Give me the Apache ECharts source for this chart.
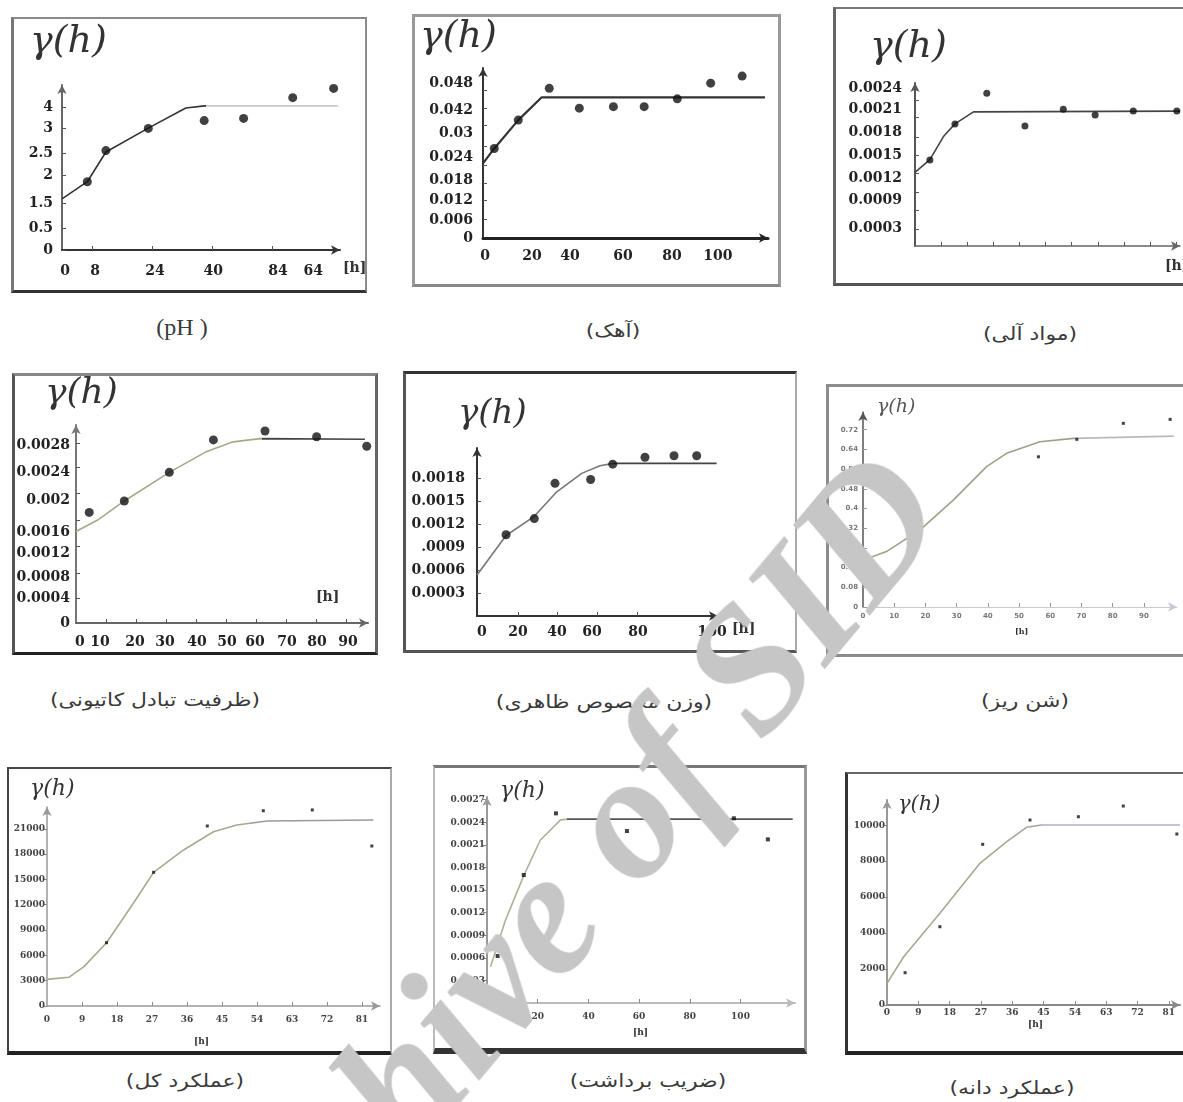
<!DOCTYPE html>
<html lang="fa">
<head>
    <meta charset="UTF-8">
    <title>واریوگرام ها</title>
    <script src="https://cdn.jsdelivr.net/npm/echarts@6/dist/echarts.min.js"></script>
    <style>
        body { margin: 0; background: #fff; width: 1183px; height: 1102px; overflow: hidden; position: relative; }
        .panel { position: absolute; }
        .chart { position: absolute; left: 0; top: 0; width: 100%; height: 100%; }
        .frame { position: absolute; left: 0; top: 0; right: 0; bottom: 0; box-sizing: border-box; pointer-events: none; }
        .cap { position: absolute; transform: translate(-50%, -50%) scaleX(1.22); white-space: nowrap; color: #3a3a3a;
               font-family: "DejaVu Sans", sans-serif; font-size: 18px; }
        .wm { position: absolute; left: 551px; top: 902px; transform: translate(-50%, -50%) rotate(-50deg);
              font: italic bold 178px "Liberation Serif", serif; line-height: 1; color: #c6c6c6;
              white-space: nowrap; pointer-events: none; z-index: 10; }
    </style>
</head>
<body>

<div class="panel" style="left:11px;top:17px;width:356px;height:276px">
    <div class="chart" id="c1"></div>
    <div class="frame" style="border:2px solid #8a8a8a;border-left:3px solid #777;border-bottom:3px solid #333"></div>
</div>
<div class="panel" style="left:412px;top:14px;width:369px;height:273px">
    <div class="chart" id="c2"></div>
    <div class="frame" style="border:3px solid #999;border-bottom:3px solid #888"></div>
</div>
<div class="panel" style="left:833px;top:7px;width:360px;height:279px">
    <div class="chart" id="c3"></div>
    <div class="frame" style="border:2px solid #777;border-left:3px solid #666;border-bottom:3px solid #555"></div>
</div>
<div class="panel" style="left:12px;top:373px;width:366px;height:282px">
    <div class="chart" id="c4"></div>
    <div class="frame" style="border:3px solid #888;border-left:3px solid #555;border-right:3px solid #666;border-bottom:3px solid #222"></div>
</div>
<div class="panel" style="left:403px;top:371px;width:394px;height:282px">
    <div class="chart" id="c5"></div>
    <div class="frame" style="border:3px solid #333;border-left:3px solid #555;border-right:2px solid #aaa;border-bottom:3px solid #555"></div>
</div>
<div class="panel" style="left:826px;top:384px;width:365px;height:273px">
    <div class="chart" id="c6"></div>
    <div class="frame" style="border:3px solid #8c8c8c"></div>
</div>
<div class="panel" style="left:7px;top:767px;width:385px;height:288px">
    <div class="chart" id="c7"></div>
    <div class="frame" style="border:2px solid #444;border-right:2px solid #aaa;border-bottom:4px solid #222"></div>
</div>
<div class="panel" style="left:433px;top:765px;width:374px;height:289px">
    <div class="chart" id="c8"></div>
    <div class="frame" style="border:3px solid #777;border-left:2px solid #bbb;border-right:3px solid #999;border-bottom:6px solid #333"></div>
</div>
<div class="panel" style="left:845px;top:772px;width:345px;height:283px">
    <div class="chart" id="c9"></div>
    <div class="frame" style="border:2px solid #666;border-left:3px solid #333;border-bottom:4px solid #222"></div>
</div>

<div class="cap" style="left:182px;top:327px;font-family:'Liberation Serif',serif;font-size:24px;transform:translate(-50%,-50%)">(pH )</div>
<div class="cap" dir="rtl" style="left:613px;top:330px">(آهک)</div>
<div class="cap" dir="rtl" style="left:1030px;top:333px">(مواد آلی)</div>
<div class="cap" dir="rtl" style="left:155px;top:699px">(ظرفیت تبادل کاتیونی)</div>
<div class="cap" dir="rtl" style="left:604px;top:701px">(وزن مخصوص ظاهری)</div>
<div class="cap" dir="rtl" style="left:1025px;top:700px">(شن ریز)</div>
<div class="cap" dir="rtl" style="left:185px;top:1080px">(عملکرد کل)</div>
<div class="cap" dir="rtl" style="left:648px;top:1080px">(ضریب برداشت)</div>
<div class="cap" dir="rtl" style="left:1012px;top:1087px">(عملکرد دانه)</div>

<div class="wm">Archive of SID</div>

<script type="text/javascript">

    // ---- pH ----
    var phPoints = [[6.75, 1.91], [11.7, 2.78], [23.0, 3.40], [37.9, 3.62], [48.4, 3.68], [61.5, 4.26], [72.4, 4.52]];
    var phLine = [[0, 1.43], [6.75, 1.91], [11.7, 2.74], [23, 3.41], [33, 3.97], [38, 4.03], [73.6, 4.03]];
    var phYTicks = [0, 0.6, 1.3, 2.1, 2.7, 3.4, 4.0];
    var phYLabels = ['0', '0.5', '1.5', '2', '2.5', '3', '4'];
    var phXTicks = [0.8, 8.8, 24.8, 40.3, 57.6, 67];
    var phXLabels = ['0', '8', '24', '40', '84', '64'];
    var phXMarks = [8, 24, 40, 56];

    // ---- آهک ----
    var limePoints = [[4.8, 0.0240], [15.0, 0.0316], [28.2, 0.0401], [41.0, 0.0348], [55.5, 0.0352], [68.6, 0.0352],
        [82.7, 0.0373], [96.9, 0.0415], [110.3, 0.0434]];
    var limeLine = [[0, 0.0200], [4.8, 0.0240], [15, 0.0316], [25, 0.0377], [120, 0.0377]];
    var limeYTicks = [0, 0.0048, 0.0102, 0.0155, 0.0217, 0.0281, 0.0343, 0.0415];
    var limeYLabels = ['0', '0.006', '0.012', '0.018', '0.024', '0.03', '0.042', '0.048'];
    var limeYMarks = [0.0051, 0.0102, 0.0148, 0.0194, 0.0245, 0.0302, 0.0348, 0.0395];
    var limeXTicks = [0.85, 20.9, 37, 59.6, 80.4, 100];
    var limeXLabels = ['0', '20', '40', '60', '80', '100'];

    // ---- مواد آلی ----
    var omPoints = [[0.57, 0.001436], [1.53, 0.001918], [2.75, 0.002329], [4.21, 0.001891], [5.68, 0.002114],
        [6.9, 0.002038], [8.36, 0.002092], [10.03, 0.002092]];
    var omLine = [[0, 0.00127], [0.57, 0.00144], [1.09, 0.00175], [1.53, 0.00192], [2.24, 0.00208], [10.15, 0.00209]];
    var omYTicks = [0.0024, 0.00211, 0.00181, 0.0015, 0.00119, 0.0009, 0.000525];
    var omYLabels = ['0.0024', '0.0021', '0.0018', '0.0015', '0.0012', '0.0009', '0.0003'];
    var omYMarks = [0.002239, 0.002011, 0.001744, 0.001503, 0.001262, 0.001007, 0.000766, 0.000512];
    var omXMarks = [1, 2, 3, 4, 5, 6, 7, 8, 9, 10];

    // ---- ظرفیت تبادل کاتیونی ----
    var cecPoints = [[4.4, 0.00174], [16.1, 0.00192], [31.1, 0.00237], [45.8, 0.00288], [63, 0.00302],
        [80.2, 0.00293], [96.9, 0.00278]];
    var cecLine = [[0, 0.00144], [7.2, 0.00162], [16.1, 0.00192], [31.1, 0.00237], [43.6, 0.00270],
        [52.4, 0.00285], [61.3, 0.00290], [96.3, 0.00289]];
    var cecYTicks = [0.0028, 0.002375, 0.001935, 0.001431, 0.001101, 0.000724, 0.000393, 0];
    var cecYLabels = ['0.0028', '0.0024', '0.002', '0.0016', '0.0012', '0.0008', '0.0004', '0'];
    var cecYMarks = [0.00283, 0.00245, 0.00204, 0.00162, 0.0012, 0.00079, 0.00039];
    var cecXTicks = [1.3, 8, 19.7, 29.7, 40.3, 50.3, 59.7, 70.3, 80.3, 90.7];
    var cecXLabels = ['0', '10', '20', '30', '40', '50', '60', '70', '80', '90'];
    var cecXMarks = [10, 20, 30, 40, 50, 60, 70, 80, 90];

    // ---- وزن مخصوص ظاهری ----
    var bdPoints = [[14.6, 0.00106], [28.8, 0.00127], [39.2, 0.00173], [57.1, 0.00178], [68.2, 0.00198],
        [84.4, 0.00207], [99, 0.00209], [110.4, 0.00209]];
    var bdLine = [[0, 0.000535], [14.6, 0.00105], [28.8, 0.00130], [40.1, 0.00162], [52.6, 0.00186],
        [61.8, 0.00196], [68.5, 0.00199], [120.4, 0.00199]];
    var bdYTicks = [0.0018, 0.0015, 0.0012, 0.0009, 0.0006, 0.0003];
    var bdYLabels = ['0.0018', '0.0015', '0.0012', '.0009', '0.0006', '0.0003'];
    var bdXTicks = [2.5, 20.6, 40.2, 57.8, 80.9, 118.1];
    var bdXLabels = ['0', '20', '40', '60', '80', '100'];
    var bdXMarks = [20.6, 40.2, 60.3, 80.4];

    // ---- شن ریز ----
    var gravelPoints = [[5.2, 0.078], [56.2, 0.610], [68.5, 0.681], [83.4, 0.746], [98.4, 0.762]];
    var gravelLine = [[0, 0.19], [7.5, 0.225], [18.3, 0.313], [29, 0.435], [39.6, 0.570], [46, 0.624],
        [56.7, 0.671], [67.4, 0.685], [99.6, 0.694]];
    var gravelYTicks = [0, 0.08, 0.16, 0.24, 0.32, 0.4, 0.48, 0.56, 0.64, 0.72];
    var gravelYLabels = ['0', '0.08', '0.16', '0.24', '0.32', '0.4', '0.48', '0.56', '0.64', '0.72'];
    var gravelXTicks = [0, 10, 20, 30, 40, 50, 60, 70, 80, 90];
    var gravelXLabels = ['0', '10', '20', '30', '40', '50', '60', '70', '80', '90'];

    // ---- عملکرد کل ----
    var totalPoints = [[15.3, 7500], [27.4, 15840], [41.2, 21330], [55.6, 23140], [68.2, 23230], [83.5, 18960]];
    var totalLine = [[0, 3160], [5.6, 3400], [9.5, 4660], [15.3, 7500], [22.2, 12170], [27.4, 15840],
        [35.1, 18490], [42.8, 20650], [48.8, 21450], [56.5, 21920], [83.9, 22040]];
    var totalYTicks = [0, 3000, 6000, 9000, 12000, 15000, 18000, 21000];
    var totalYLabels = ['0', '3000', '6000', '9000', '12000', '15000', '18000', '21000'];
    var totalXTicks = [0, 9, 18, 27, 36, 45, 54, 63, 72, 81];
    var totalXLabels = ['0', '9', '18', '27', '36', '45', '54', '63', '72', '81'];

    // ---- ضریب برداشت ----
    var hiPoints = [[4.2, 0.000624], [14.5, 0.001699], [27.2, 0.002517], [55.2, 0.002282], [68.4, 0.002517],
        [97.4, 0.002451], [110.8, 0.002172]];
    var hiLine = [[1.4, 0.000482], [7.3, 0.0011], [14.5, 0.00169], [21, 0.00216], [29, 0.00243],
        [31.9, 0.00244], [120.6, 0.00244]];
    var hiYTicks = [0.0003, 0.0006, 0.0009, 0.0012, 0.0015, 0.0018, 0.0021, 0.0024, 0.0027];
    var hiYLabels = ['0.0003', '0.0006', '0.0009', '0.0012', '0.0015', '0.0018', '0.0021', '0.0024', '0.0027'];
    var hiXTicks = [20, 40, 60, 80, 100];
    var hiXLabels = ['20', '40', '60', '80', '100'];

    // ---- عملکرد دانه ----
    var grainPoints = [[5.2, 1796], [15.2, 4353], [27.5, 8935], [41.1, 10286], [55, 10470], [67.9, 11064], [83.3, 9508]];
    var grainLine = [[0, 1206], [4.8, 2685], [15.2, 5098], [26.7, 7878], [34.4, 9080], [40.1, 9880],
        [44.4, 10008], [84.2, 10008]];
    var grainYTicks = [0, 2000, 4000, 6000, 8000, 10000];
    var grainYLabels = ['0', '2000', '4000', '6000', '8000', '10000'];
    var grainXTicks = [0, 9, 18, 27, 36, 45, 54, 63, 72, 81];
    var grainXLabels = ['0', '9', '18', '27', '36', '45', '54', '63', '72', '81'];


    // 刻度文字：按位置查表
    function pickLabel(ticks, texts, span) {
        return function (v) {
            for (var i = 0; i < ticks.length; i++) {
                if (Math.abs(ticks[i] - v) < span * 1e-6) return texts[i];
            }
            return '';
        };
    }

    function twoTone(c1, c2, k) {
        if (k == null) return c1;
        return {
            type: 'linear', x: 0, y: 0, x2: 1, y2: 0,
            colorStops: [{offset: 0, color: c1}, {offset: k, color: c1}, {offset: k, color: c2}, {offset: 1, color: c2}]
        };
    }

    function drawPanel(p) {
        var chart = echarts.init(document.getElementById(p.id));
        var yMin = p.yMin || 0;
        var font = {fontFamily: p.fontFamily || 'DejaVu Serif', fontWeight: 'bold', fontSize: p.fontSize, color: p.labelColor || '#222'};
        var graphic = [{
            type: 'text', left: p.gamma[0], top: p.gamma[1],
            style: {text: 'γ(h)', fontFamily: 'DejaVu Serif', fontStyle: 'italic', fontSize: p.gamma[2], fill: p.gammaColor || '#333'}
        }];
        if (p.hMark) {
            graphic.push({
                type: 'text', left: p.hMark[0], top: p.hMark[1],
                style: {text: '[h]', fontFamily: 'DejaVu Serif', fontWeight: 'bold', fontSize: p.hMark[2], fill: '#333'}
            });
        }
        var option = {
            animation: false,
            grid: {left: p.grid[0], top: p.grid[1], width: p.grid[2], height: p.grid[3], outerBoundsMode: 'none'},
            graphic: graphic,
            xAxis: {
                type: 'value', min: 0, max: p.xMax,
                splitLine: {show: false},
                axisLine: {show: true, onZero: false, symbol: ['none', 'arrow'], symbolSize: [7, 9],
                    lineStyle: {color: p.xAxisColor, width: p.xAxisWidth}},
                axisTick: {show: !!p.xMarks, customValues: p.xMarks || [], inside: true, length: 4,
                    lineStyle: {color: p.tickColor || '#555'}},
                axisLabel: {show: !!p.xTicks, customValues: p.xTicks || [], margin: p.xMargin,
                    formatter: pickLabel(p.xTicks || [], p.xLabels || [], p.xMax),
                    fontFamily: font.fontFamily, fontWeight: 'bold', fontSize: font.fontSize, color: font.color}
            },
            yAxis: {
                type: 'value', min: yMin, max: p.yMax,
                splitLine: {show: false},
                axisLine: {show: true, onZero: false, symbol: ['none', 'arrow'], symbolSize: [7, 9],
                    lineStyle: {color: p.yAxisColor, width: p.yAxisWidth}},
                axisTick: {show: true, customValues: p.yMarks || p.yTicks, inside: p.yTickInside !== false, length: 4,
                    lineStyle: {color: p.tickColor || '#555'}},
                axisLabel: {customValues: p.yTicks, margin: p.yMargin,
                    formatter: pickLabel(p.yTicks, p.yLabels, p.yMax - yMin),
                    fontFamily: font.fontFamily, fontWeight: 'bold', fontSize: font.fontSize, color: font.color}
            },
            series: [{
                type: 'line', data: p.line, symbol: 'none', z: 2,
                lineStyle: {width: p.lineWidth || 1.6, color: twoTone(p.lineColors[0], p.lineColors[1], p.knee)}
            }, {
                type: 'scatter', data: p.points, symbol: p.pointShape || 'circle', symbolSize: p.pointSize, z: 3,
                itemStyle: {color: '#111'}
            }]
        };
        chart.setOption(option);
    }

    drawPanel({id: 'c1', grid: [51, 68, 278, 165], xMax: 74.1, yMax: 4.615,
        points: phPoints, line: phLine, lineColors: ['#333', '#c8c8c8'], knee: 0.52, pointSize: 9,
        yTicks: phYTicks, yLabels: phYLabels, xTicks: phXTicks, xLabels: phXLabels, xMarks: phXMarks,
        fontSize: 14, xMargin: 14, yMargin: 9, xAxisColor: '#333', xAxisWidth: 2, yAxisColor: '#666', yAxisWidth: 2,
        gamma: [19, 6, 38], hMark: [332, 244, 14]});

    drawPanel({id: 'c2', grid: [71, 54, 285, 170], xMax: 121.3, yMax: 0.04556,
        points: limePoints, line: limeLine, lineColors: ['#333', '#333'], lineWidth: 2.2, pointSize: 9,
        yTicks: limeYTicks, yLabels: limeYLabels, yMarks: limeYMarks, xTicks: limeXTicks, xLabels: limeXLabels,
        fontSize: 14, xMargin: 11, yMargin: 10, xAxisColor: '#222', xAxisWidth: 3, yAxisColor: '#333', yAxisWidth: 2,
        gamma: [8, 4, 38]});

    drawPanel({id: 'c3', grid: [82, 76, 265, 163], xMax: 10.15, yMin: 0.000284, yMax: 0.002467,
        points: omPoints, line: omLine, lineColors: ['#444', '#555'], pointSize: 7,
        yTicks: omYTicks, yLabels: omYLabels, yMarks: omYMarks, xMarks: omXMarks,
        fontSize: 14, yMargin: 13, xAxisColor: '#666', xAxisWidth: 1.5, yAxisColor: '#555', yAxisWidth: 2,
        gamma: [37, 21, 38], hMark: [332, 252, 14]});

    drawPanel({id: 'c4', grid: [64, 52, 292, 198], xMax: 97.33, yMax: 0.003115,
        points: cecPoints, line: cecLine, lineColors: ['#a8a888', '#444'], knee: 0.64, pointSize: 9,
        yTicks: cecYTicks, yLabels: cecYLabels, yMarks: cecYMarks, xTicks: cecXTicks, xLabels: cecXLabels, xMarks: cecXMarks,
        fontSize: 14, xMargin: 12, yMargin: 6, xAxisColor: '#666', xAxisWidth: 2, yAxisColor: '#777', yAxisWidth: 2,
        gamma: [33, 3, 36], hMark: [304, 217, 14]});

    drawPanel({id: 'c5', grid: [74, 77, 241, 168], xMax: 121.1, yMax: 0.002191,
        points: bdPoints, line: bdLine, lineColors: ['#777', '#444'], knee: 0.57, pointSize: 9,
        yTicks: bdYTicks, yLabels: bdYLabels, xTicks: bdXTicks, xLabels: bdXLabels, xMarks: bdXMarks,
        fontSize: 14, xMargin: 9, yMargin: 12, xAxisColor: '#333', xAxisWidth: 2, yAxisColor: '#333', yAxisWidth: 2,
        gamma: [55, 26, 34], hMark: [329, 251, 14]});

    drawPanel({id: 'c6', grid: [37, 28, 314, 195], xMax: 100.6, yMax: 0.792,
        points: gravelPoints, line: gravelLine, lineColors: ['#a0a088', '#b8b8c4'], knee: 0.68,
        pointSize: 3, pointShape: 'rect',
        yTicks: gravelYTicks, yLabels: gravelYLabels, xTicks: gravelXTicks, xLabels: gravelXLabels, xMarks: gravelXTicks.slice(1),
        fontFamily: 'DejaVu Sans', fontSize: 7, labelColor: '#777', xMargin: 6, yMargin: 5, tickColor: '#999',
        xAxisColor: '#c8c8d8', xAxisWidth: 1, yAxisColor: '#555', yAxisWidth: 1.5,
        gamma: [51, 14, 19], gammaColor: '#555', hMark: [189, 244, 8]});

    drawPanel({id: 'c7', grid: [40, 40, 333, 199], xMax: 85.6, yMax: 23580,
        points: totalPoints, line: totalLine, lineColors: ['#a8a890', '#9a9a9a'], knee: 0.62,
        pointSize: 3, pointShape: 'rect',
        yTicks: totalYTicks, yLabels: totalYLabels, yTickInside: false, xTicks: totalXTicks, xLabels: totalXLabels,
        xMarks: totalXTicks.slice(1),
        fontSize: 9, labelColor: '#444', xMargin: 9, yMargin: 2, tickColor: '#888',
        xAxisColor: '#999', xAxisWidth: 1.5, yAxisColor: '#999', yAxisWidth: 1.5,
        gamma: [23, 11, 22], hMark: [187, 270, 9]});

    drawPanel({id: 'c8', grid: [54, 32, 308, 206], xMax: 121.5, yMax: 0.002734,
        points: hiPoints, line: hiLine, lineColors: ['#b0b098', '#555'], knee: 0.256,
        pointSize: 4, pointShape: 'rect',
        yTicks: hiYTicks, yLabels: hiYLabels, yTickInside: false, xTicks: hiXTicks, xLabels: hiXLabels, xMarks: hiXTicks,
        fontSize: 9, labelColor: '#444', xMargin: 9, yMargin: 2, tickColor: '#888',
        xAxisColor: '#bbb', xAxisWidth: 2, yAxisColor: '#999', yAxisWidth: 2,
        gamma: [67, 15, 22], hMark: [200, 263, 9]});

    drawPanel({id: 'c9', grid: [42, 28, 293, 205], xMax: 84.2, yMax: 11400,
        points: grainPoints, line: grainLine, lineColors: ['#a8a890', '#b0b0c8'], knee: 0.53,
        pointSize: 3, pointShape: 'rect',
        yTicks: grainYTicks, yLabels: grainYLabels, yTickInside: false, xTicks: grainXTicks, xLabels: grainXLabels,
        xMarks: grainXTicks.slice(1),
        fontSize: 9, labelColor: '#444', xMargin: 3, yMargin: 2, tickColor: '#888',
        xAxisColor: '#888', xAxisWidth: 2, yAxisColor: '#999', yAxisWidth: 2,
        gamma: [53, 22, 21], hMark: [183, 248, 9]});

</script>
</body>
</html>
